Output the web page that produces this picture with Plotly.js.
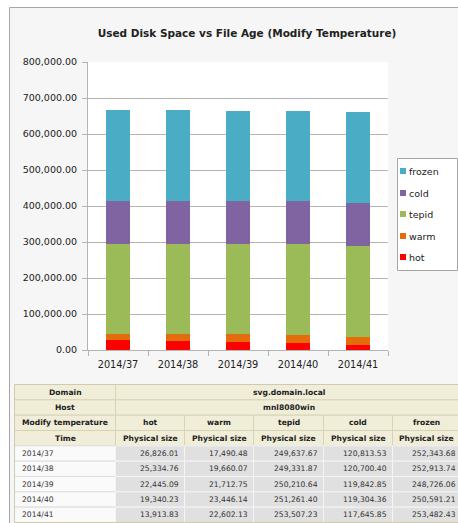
<!DOCTYPE html>
<html>
<head>
<meta charset="utf-8">
<script src="https://cdn.plot.ly/plotly-3.0.1.min.js"></script>
<style>
html,body{margin:0;padding:0;background:#fff;}
#chart{width:458px;height:523px;}
</style>
</head>
<body>
<div id="chart"></div>
<script>
// ---- data ----
const weeks = ['2014/37', '2014/38', '2014/39', '2014/40', '2014/41'];
const seriesNames = ['hot', 'warm', 'tepid', 'cold', 'frozen'];
const hot    = [26826.01, 25334.76, 22445.09, 19340.23, 13913.83];
const warm   = [17490.48, 19660.07, 21712.75, 23446.14, 22602.13];
const tepid  = [249637.67, 249331.87, 250210.64, 251261.40, 253507.23];
const cold   = [120813.53, 120700.40, 119842.85, 119304.36, 117645.85];
const frozen = [252343.68, 252913.74, 248726.06, 250591.21, 253482.43];
const chartTitle = 'Used Disk Space vs File Age (Modify Temperature)';
const domainName = 'svg.domain.local';
const hostName = 'mnl8080win';
const rowHeaderLabels = ['Domain', 'Host', 'Modify temperature', 'Time'];
const measureLabel = 'Physical size';

// ---- styles ----
const seriesColors = ['#ff0000', '#e46c0a', '#9bbb59', '#8064a2', '#4bacc6'];
const seriesValues = [hot, warm, tepid, cold, frozen];
const FONT = 'DejaVu Sans, Verdana, sans-serif';
const W = 458, H = 523;
const M = {l: 88, r: 70, t: 62, b: 173};
const PW = W - M.l - M.r, PH = H - M.t - M.b;
const px2x = p => (p - M.l) / PW;
const py2y = p => (M.t + PH - p) / PH;
const GRID = '#b4b4b4';

const traces = seriesNames.map((name, i) => ({
  type: 'bar',
  name: name,
  x: weeks,
  y: seriesValues[i],
  marker: {color: seriesColors[i], line: {width: 0}},
  hoverinfo: 'x+y+name'
}));

const shapes = [];
const annotations = [];
function rect(x0, y0, x1, y1, fill, lineColor, lw) {
  shapes.push({type: 'rect', xref: 'paper', yref: 'paper', layer: 'above',
    x0: px2x(x0), x1: px2x(x1), y0: py2y(y1), y1: py2y(y0),
    fillcolor: fill, line: {color: lineColor || 'rgba(0,0,0,0)', width: lw === undefined ? 1 : lw}});
}
function text(px, py, str, anchor, size, bold, color) {
  annotations.push({xref: 'paper', yref: 'paper', x: px2x(px), y: py2y(py),
    text: bold ? '<b>' + str + '</b>' : str, showarrow: false,
    xanchor: anchor, yanchor: 'middle', borderpad: 0,
    font: {family: FONT, size: size, color: color || '#222'}});
}

// outside-frame white strips + frame border
rect(0, 0, W, 7, '#ffffff', null, 0);
rect(0, 0, 9, H, '#ffffff', null, 0);
shapes.push({type: 'line', xref: 'paper', yref: 'paper', layer: 'above',
  x0: px2x(9.5), x1: px2x(W + 5), y0: py2y(7.5), y1: py2y(7.5), line: {color: '#a6a6a6', width: 1}});
shapes.push({type: 'line', xref: 'paper', yref: 'paper', layer: 'above',
  x0: px2x(9.5), x1: px2x(9.5), y0: py2y(7.5), y1: py2y(H + 5), line: {color: '#a6a6a6', width: 1}});

// custom legend (top entry = last series)
rect(397.5, 158.5, 457.5, 270.5, '#ffffff', '#a6a6a6', 1);
const legendY = [171, 193, 214, 236, 257];
for (let k = 0; k < seriesNames.length; k++) {
  const i = seriesNames.length - 1 - k;
  rect(400, legendY[k] - 3, 406, legendY[k] + 3, seriesColors[i], null, 0);
  text(408, legendY[k], seriesNames[i], 'left', 9.5, false, '#222');
}

// table
const colEdges = [14.5, 115.5, 184.5, 253.5, 323.5, 392.5, 461.5];
const rowH = 15.33;
const tableTop = 384.5;
const rowEdge = r => tableTop + rowH * r;
const HEAD_FILL = '#f0edd8', HEAD_LINE = '#d8d3b6';
const VAL_FILL = '#e0e0e0', VAL_LINE = '#f4f4f4';
const TIME_FILL = '#fafafa', TIME_LINE = '#dedede';
const TFS = 7.6;
// header rows
for (let r = 0; r < 4; r++) {
  const y0 = rowEdge(r), y1 = rowEdge(r + 1), yc = (y0 + y1) / 2;
  rect(colEdges[0], y0, colEdges[1], y1, HEAD_FILL, HEAD_LINE, 1);
  text((colEdges[0] + colEdges[1]) / 2, yc, rowHeaderLabels[r], 'center', TFS, true, '#222');
  if (r < 2) {
    rect(colEdges[1], y0, colEdges[6], y1, HEAD_FILL, HEAD_LINE, 1);
    text((colEdges[1] + colEdges[6]) / 2, yc, r === 0 ? domainName : hostName, 'center', TFS, true, '#222');
  } else {
    for (let c = 0; c < seriesNames.length; c++) {
      rect(colEdges[c + 1], y0, colEdges[c + 2], y1, HEAD_FILL, HEAD_LINE, 1);
      text((colEdges[c + 1] + colEdges[c + 2]) / 2, yc, r === 2 ? seriesNames[c] : measureLabel, 'center', TFS, true, '#222');
    }
  }
}
// data rows
const fmt = v => v.toLocaleString('en-US', {minimumFractionDigits: 2, maximumFractionDigits: 2});
for (let w = 0; w < weeks.length; w++) {
  const y0 = rowEdge(4 + w), y1 = rowEdge(5 + w), yc = (y0 + y1) / 2;
  rect(colEdges[0], y0, colEdges[1], y1, TIME_FILL, TIME_LINE, 1);
  text(colEdges[0] + 6, yc, weeks[w], 'left', TFS, false, '#333');
  for (let c = 0; c < seriesNames.length; c++) {
    rect(colEdges[c + 1], y0, colEdges[c + 2], y1, VAL_FILL, VAL_LINE, 1);
    text(colEdges[c + 2] - 5, yc, fmt(seriesValues[c][w]), 'right', TFS, false, '#333');
  }
}
// table outer border
rect(colEdges[0], rowEdge(0), colEdges[6], rowEdge(9), 'rgba(0,0,0,0)', '#cfcab0', 1);

const layout = {
  width: W, height: H,
  margin: M,
  paper_bgcolor: '#f6f6f6',
  plot_bgcolor: '#ffffff',
  font: {family: FONT, size: 9.5, color: '#222'},
  title: {
    text: '<b>' + chartTitle + '</b>',
    font: {family: FONT, size: 10.5, color: '#222'},
    x: 247 / W, xref: 'container', xanchor: 'center',
    y: 1 - 33 / H, yref: 'container', yanchor: 'middle'
  },
  barmode: 'stack',
  bargap: 0.59,
  showlegend: false,
  xaxis: {
    type: 'category',
    tickson: 'boundaries',
    ticks: 'outside', ticklen: 5, tickcolor: GRID, tickwidth: 1,
    showline: true, linecolor: GRID, linewidth: 1,
    showgrid: false, zeroline: false,
    ticklabelstandoff: 5,
    tickfont: {family: FONT, size: 9.8, color: '#222'},
    fixedrange: true
  },
  yaxis: {
    range: [0, 800000],
    dtick: 100000,
    tickformat: ',.2f',
    ticks: 'outside', ticklen: 5, tickcolor: GRID, tickwidth: 1,
    showline: true, linecolor: GRID, linewidth: 1,
    showgrid: true, gridcolor: GRID, gridwidth: 1,
    zeroline: false,
    ticklabelstandoff: 3,
    tickfont: {family: FONT, size: 9.5, color: '#222'},
    fixedrange: true
  },
  shapes: shapes,
  annotations: annotations
};

Plotly.newPlot('chart', traces, layout, {displayModeBar: false, staticPlot: true});
</script>
</body>
</html>
